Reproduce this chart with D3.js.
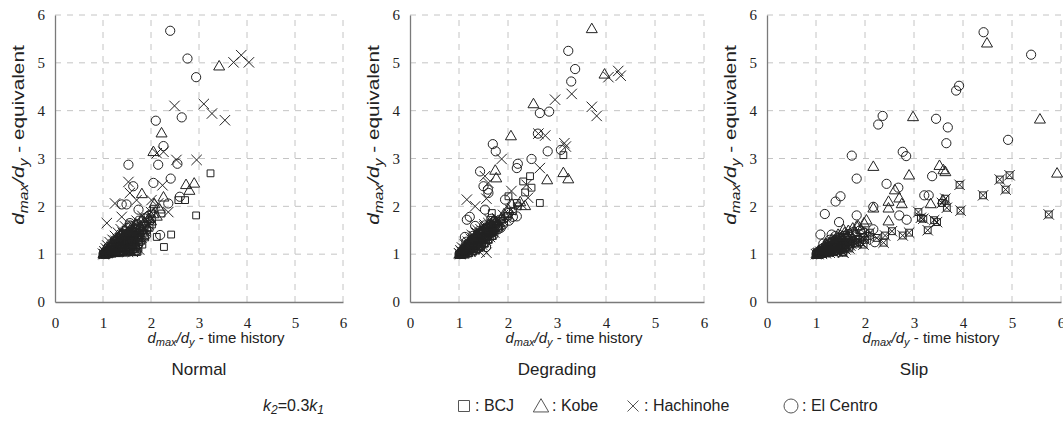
<!DOCTYPE html>
<html>
<head>
<meta charset="utf-8">
<script src="https://cdn.jsdelivr.net/npm/d3@7"></script>
<style>
  body { margin: 0; background: #fff; }
  svg { display: block; }
  .tick text { font-family: 'Liberation Serif', 'Times New Roman', 'DejaVu Serif', serif; }
</style>
</head>
<body>
<svg id="chart" width="1063" height="437"></svg>
<script>
// ---- data: [time history, equivalent] pairs ----
const panelNames = ["Normal", "Degrading", "Slip"];
const ticks = [0, 1, 2, 3, 4, 5, 6];
const seriesNames = ["BCJ", "Kobe", "Hachinohe", "El Centro"];

const normalBCJ = [[1.00,1.00],[1.02,1.01],[1.05,1.02],[1.08,1.03],[1.10,1.05],[1.13,1.04],[1.15,1.08],[1.18,1.06],[1.20,1.10],[1.23,1.08],[1.25,1.12],[1.28,1.05],[1.30,1.15],[1.33,1.10],[1.35,1.18],[1.38,1.07],[1.40,1.20],[1.43,1.13],[1.45,1.22],[1.48,1.09],[1.50,1.25],[1.53,1.15],[1.55,1.05],[1.58,1.28],[1.60,1.18],[1.63,1.10],[1.65,1.30],[1.68,1.22],[1.70,1.05],[1.72,1.35],[1.75,1.25],[1.78,1.40],[1.80,1.30],[1.85,1.45],[1.88,1.35],[1.92,1.50],[1.97,1.55],[2.02,1.62],
  [1.05,1.00],[1.12,1.01],[1.20,1.02],[1.28,1.03],[1.35,1.02],[1.42,1.04],[1.50,1.03],[1.58,1.06],[1.66,1.04],[1.22,1.15],[1.32,1.22],[1.44,1.30],[1.56,1.35],[1.62,1.25],[1.38,1.14],
  [1.04,1.03],[1.11,1.07],[1.17,1.12],[1.26,1.17],[1.34,1.25],[1.41,1.27],[1.47,1.18],[1.54,1.24],[1.61,1.33],[1.69,1.15],[1.74,1.12],[1.46,1.36],[1.36,1.33],[1.26,1.24],[1.58,1.42],[1.82,1.20],[1.67,1.40],[1.77,1.50],
  [3.24,2.69],[2.94,1.81],[2.42,1.41],[2.27,1.15],[2.12,1.36],[1.72,1.05],[2.57,2.13],[2.71,2.13],[2.06,1.95],[2.22,1.85],[2.01,1.85]];
const normalKobe = [[1.01,1.02],[1.04,1.05],[1.07,1.08],[1.10,1.12],[1.12,1.06],[1.15,1.15],[1.18,1.10],[1.20,1.20],[1.24,1.14],[1.27,1.25],[1.30,1.18],[1.33,1.30],[1.36,1.22],[1.40,1.35],[1.42,1.15],[1.45,1.28],[1.48,1.40],[1.52,1.32],[1.55,1.45],[1.58,1.22],[1.62,1.50],[1.65,1.38],[1.70,1.55],[1.73,1.45],[1.78,1.60],[1.82,1.52],[1.86,1.68],[1.90,1.58],[1.95,1.75],[2.00,1.70],[2.05,1.85],[2.12,1.80],[2.18,1.95],
  [1.03,1.00],[1.09,1.02],[1.16,1.03],[1.24,1.04],[1.31,1.06],[1.39,1.08],[1.47,1.07],[1.54,1.10],[1.63,1.12],[1.28,1.32],[1.38,1.40],[1.50,1.46],[1.60,1.58],[1.68,1.62],[1.18,1.24],
  [1.06,1.04],[1.13,1.09],[1.21,1.08],[1.29,1.13],[1.37,1.17],[1.44,1.21],[1.51,1.16],[1.59,1.30],[1.66,1.20],[1.72,1.35],[1.35,1.28],[1.43,1.42],[1.53,1.38],[1.62,1.44],[1.76,1.30],[1.84,1.42],[1.23,1.19],
  [3.42,4.94],[2.22,3.54],[2.05,3.15],[2.73,2.46],[2.90,2.49],[2.80,2.34],[2.26,2.20],[1.81,2.27],[2.07,2.06]];
const normalHachinohe = [[1.00,1.01],[1.03,1.06],[1.06,1.12],[1.09,1.18],[1.11,1.04],[1.14,1.25],[1.17,1.10],[1.20,1.30],[1.22,1.16],[1.25,1.38],[1.28,1.22],[1.31,1.45],[1.34,1.28],[1.37,1.52],[1.40,1.10],[1.43,1.35],[1.46,1.58],[1.50,1.42],[1.53,1.20],[1.56,1.50],[1.60,1.62],[1.63,1.35],[1.67,1.55],[1.70,1.70],[1.74,1.45],[1.78,1.65],[1.82,1.80],[1.86,1.55],[1.90,1.72],[1.95,1.62],[2.00,1.88],[1.75,1.10],[1.62,1.05],
  [1.02,1.00],[1.08,1.02],[1.14,1.04],[1.21,1.06],[1.29,1.08],[1.36,1.12],[1.44,1.15],[1.52,1.18],[1.60,1.20],[1.68,1.28],[1.32,1.18],[1.48,1.26],[1.56,1.32],[1.15,1.10],[1.26,1.28],
  [1.05,1.03],[1.10,1.08],[1.19,1.14],[1.27,1.10],[1.35,1.20],[1.42,1.24],[1.49,1.32],[1.57,1.40],[1.64,1.45],[1.71,1.38],[1.80,1.35],[1.88,1.48],[1.41,1.45],[1.30,1.32],[1.52,1.05],[1.66,1.12],
  [3.72,5.01],[3.88,5.16],[4.04,5.01],[3.10,4.14],[3.27,3.94],[3.54,3.80],[2.49,4.10],[2.95,2.97],[2.53,2.97],[2.26,3.14],[2.12,3.11],[2.24,2.44],[1.53,2.51],[1.56,2.28],[1.25,2.06],[1.70,2.13],[1.08,1.65],[1.39,1.78],[2.01,2.13],[2.15,2.06],[2.36,1.88],[1.84,1.40]];
const normalElCentro = [[1.01,1.00],[1.04,1.04],[1.08,1.10],[1.11,1.15],[1.14,1.08],[1.17,1.22],[1.20,1.14],[1.24,1.28],[1.27,1.20],[1.30,1.35],[1.33,1.26],[1.36,1.42],[1.40,1.30],[1.43,1.48],[1.46,1.36],[1.50,1.55],[1.53,1.40],[1.57,1.60],[1.60,1.45],[1.65,1.52],[1.70,1.62],[1.75,1.70],[1.80,1.58],[1.85,1.75],[1.90,1.66],[1.95,1.80],[2.00,1.72],[1.45,1.12],[1.70,1.08],[1.90,1.40],
  [1.06,1.01],[1.13,1.02],[1.19,1.04],[1.26,1.05],[1.33,1.06],[1.41,1.09],[1.49,1.13],[1.57,1.16],[1.64,1.22],[1.72,1.30],[1.35,1.32],[1.47,1.42],[1.58,1.50],[1.66,1.44],[1.22,1.08],
  [1.03,1.02],[1.09,1.06],[1.16,1.09],[1.23,1.12],[1.31,1.12],[1.38,1.20],[1.45,1.24],[1.52,1.30],[1.60,1.38],[1.68,1.50],[1.76,1.42],[1.84,1.52],[1.29,1.26],[1.39,1.38],[1.55,1.08],[1.63,1.28],[1.73,1.20],
  [2.40,5.67],[2.76,5.09],[2.94,4.70],[2.64,3.86],[2.10,3.79],[2.26,3.26],[1.53,2.87],[2.15,2.87],[2.55,2.89],[2.05,2.49],[2.41,2.58],[1.63,2.42],[2.60,2.20],[1.39,2.04],[1.49,2.04],[1.74,1.93],[2.36,2.06],[2.19,1.40],[1.56,1.65],[1.91,1.77]];

const degradingBCJ = [[1.00,1.00],[1.03,1.02],[1.06,1.05],[1.09,1.08],[1.12,1.04],[1.15,1.12],[1.18,1.08],[1.21,1.16],[1.24,1.12],[1.27,1.22],[1.30,1.16],[1.33,1.28],[1.36,1.20],[1.39,1.33],[1.42,1.25],[1.45,1.38],[1.48,1.30],[1.52,1.44],[1.55,1.35],[1.58,1.50],[1.62,1.42],[1.66,1.56],[1.70,1.48],[1.75,1.62],[1.80,1.55],[1.85,1.70],[1.92,1.66],[2.00,1.80],[2.10,1.90],[2.20,2.00],
  [1.05,1.00],[1.12,1.02],[1.20,1.03],[1.28,1.06],[1.36,1.10],[1.44,1.16],[1.52,1.22],[1.60,1.30],[1.68,1.38],[1.18,1.22],[1.30,1.34],[1.42,1.46],[1.55,1.55],[1.65,1.62],
  [1.04,1.03],[1.10,1.07],[1.16,1.14],[1.23,1.19],[1.30,1.24],[1.38,1.28],[1.45,1.33],[1.52,1.38],[1.60,1.46],[1.68,1.52],[1.75,1.55],[1.34,1.18],[1.47,1.25],[1.58,1.36],[1.25,1.10],
  [3.13,3.07],[2.65,2.07],[2.45,2.63],[2.31,2.52],[2.35,2.29],[2.48,2.39],[2.01,2.21],[2.18,2.07],[1.67,1.86]];
const degradingKobe = [[1.01,1.01],[1.04,1.06],[1.07,1.10],[1.10,1.03],[1.13,1.15],[1.16,1.10],[1.19,1.20],[1.22,1.14],[1.25,1.26],[1.28,1.18],[1.31,1.32],[1.34,1.24],[1.37,1.38],[1.40,1.30],[1.43,1.44],[1.46,1.35],[1.50,1.50],[1.54,1.40],[1.58,1.56],[1.62,1.46],[1.66,1.62],[1.70,1.52],[1.75,1.68],[1.80,1.60],[1.86,1.75],[1.92,1.85],[2.00,1.95],[2.08,2.05],[2.25,2.10],[2.35,2.02],
  [1.03,1.00],[1.10,1.01],[1.17,1.04],[1.25,1.08],[1.33,1.12],[1.41,1.18],[1.49,1.24],[1.57,1.32],[1.65,1.40],[1.22,1.30],[1.35,1.42],[1.47,1.52],[1.60,1.64],[1.70,1.70],
  [1.06,1.04],[1.12,1.09],[1.19,1.12],[1.26,1.20],[1.33,1.26],[1.40,1.35],[1.47,1.40],[1.55,1.45],[1.63,1.50],[1.72,1.58],[1.80,1.66],[1.38,1.22],[1.52,1.32],[1.66,1.48],[1.28,1.14],
  [3.71,5.72],[2.52,4.15],[2.06,3.48],[3.97,4.77],[2.80,2.56],[3.13,2.71],[3.23,2.58],[1.74,2.76],[1.76,2.60]];
const degradingHachinohe = [[1.00,1.02],[1.03,1.08],[1.06,1.14],[1.09,1.04],[1.12,1.20],[1.15,1.12],[1.18,1.26],[1.21,1.18],[1.24,1.32],[1.27,1.24],[1.30,1.38],[1.33,1.28],[1.36,1.45],[1.40,1.34],[1.44,1.52],[1.48,1.40],[1.52,1.58],[1.56,1.46],[1.60,1.65],[1.64,1.52],[1.68,1.70],[1.72,1.58],[1.78,1.75],[1.84,1.66],[1.90,1.82],[1.96,1.75],[2.05,1.92],[1.50,1.10],[1.42,1.05],
  [1.02,1.00],[1.08,1.02],[1.15,1.03],[1.23,1.06],[1.31,1.10],[1.39,1.15],[1.47,1.20],[1.55,1.28],[1.63,1.36],[1.72,1.45],[1.26,1.40],[1.38,1.50],[1.52,1.62],[1.62,1.72],
  [1.05,1.05],[1.11,1.11],[1.18,1.16],[1.25,1.22],[1.32,1.30],[1.39,1.38],[1.46,1.44],[1.54,1.50],[1.62,1.55],[1.70,1.62],[1.78,1.68],[1.44,1.28],[1.58,1.40],[1.33,1.20],[1.66,1.46],
  [2.96,4.23],[3.30,4.35],[3.71,4.08],[3.81,3.89],[4.05,4.70],[4.25,4.83],[4.30,4.73],[2.76,3.48],[2.62,3.52],[3.15,3.32],[3.18,3.25],[1.87,2.99],[2.65,2.80],[1.53,2.63],[1.60,2.49],[1.16,2.14],[1.56,2.16],[1.33,2.00],[2.07,2.32],[2.38,2.45],[1.56,1.03],[2.41,2.18],[2.28,2.04]];
const degradingElCentro = [[1.01,1.00],[1.04,1.03],[1.07,1.07],[1.10,1.12],[1.13,1.06],[1.16,1.18],[1.19,1.12],[1.22,1.24],[1.25,1.16],[1.28,1.30],[1.31,1.22],[1.34,1.36],[1.37,1.28],[1.40,1.42],[1.44,1.32],[1.48,1.48],[1.52,1.38],[1.56,1.55],[1.60,1.44],[1.64,1.62],[1.68,1.50],[1.72,1.68],[1.78,1.58],[1.84,1.72],[1.90,1.62],[1.96,1.78],[2.02,1.70],[2.10,1.78],[1.55,1.15],[1.80,1.52],[1.85,1.55],
  [1.06,1.01],[1.14,1.02],[1.21,1.05],[1.29,1.08],[1.37,1.12],[1.45,1.18],[1.53,1.25],[1.61,1.33],[1.70,1.40],[1.15,1.26],[1.28,1.38],[1.40,1.48],[1.52,1.60],[1.66,1.74],
  [1.03,1.03],[1.09,1.09],[1.16,1.15],[1.23,1.20],[1.30,1.27],[1.37,1.32],[1.44,1.40],[1.51,1.46],[1.58,1.50],[1.66,1.56],[1.74,1.64],[1.42,1.26],[1.56,1.36],[1.30,1.14],[1.70,1.48],
  [3.23,5.25],[3.37,4.87],[3.29,4.61],[2.65,3.95],[2.84,3.98],[2.61,3.52],[1.69,3.30],[1.75,3.15],[2.81,3.15],[3.08,3.18],[2.48,2.99],[2.20,2.89],[2.18,2.80],[1.43,2.73],[1.50,2.42],[1.59,2.35],[1.60,2.28],[1.16,1.72],[1.22,1.78],[1.53,1.93],[1.12,1.36],[1.33,1.59],[1.94,2.14],[2.01,1.86],[2.18,1.79]];

const slipBCJ = [[1.00,1.00],[1.03,1.01],[1.06,1.03],[1.09,1.05],[1.12,1.02],[1.15,1.07],[1.18,1.04],[1.21,1.09],[1.24,1.06],[1.27,1.11],[1.30,1.08],[1.33,1.13],[1.36,1.05],[1.39,1.15],[1.42,1.10],[1.45,1.18],[1.48,1.12],[1.52,1.20],[1.55,1.04],[1.58,1.22],[1.62,1.15],[1.66,1.25],[1.70,1.18],[1.75,1.28],[1.80,1.22],[1.85,1.32],[1.90,1.25],[1.95,1.35],[2.00,1.30],[2.05,1.38],
  [1.05,1.00],[1.12,1.01],[1.20,1.02],[1.28,1.03],[1.36,1.04],[1.44,1.06],[1.52,1.08],[1.60,1.10],[1.25,1.16],[1.40,1.22],
  [1.04,1.02],[1.10,1.04],[1.16,1.05],[1.22,1.07],[1.29,1.10],[1.35,1.12],[1.41,1.14],[1.47,1.16],[1.54,1.13],[1.60,1.18],[1.68,1.12],[1.72,1.22],[1.32,1.18],[1.48,1.24],
  [4.75,2.56],[4.95,2.65],[4.87,2.35],[4.41,2.23],[3.93,2.45],[3.95,1.91],[5.75,1.83],[3.09,1.88],[3.14,1.76],[3.19,1.74],[3.41,1.71],[3.47,1.67],[3.67,1.97],[3.64,2.16],[3.57,2.07],[3.28,1.50],[2.90,1.45],[2.77,1.39],[2.55,1.48],[2.41,1.39],[2.38,1.24],[2.24,1.34],[2.10,1.45],[1.97,1.20],[1.56,1.03],[1.83,1.24]];
const slipKobe = [[1.01,1.01],[1.04,1.05],[1.07,1.08],[1.10,1.03],[1.13,1.12],[1.16,1.08],[1.19,1.15],[1.22,1.10],[1.25,1.20],[1.28,1.14],[1.31,1.25],[1.34,1.18],[1.37,1.30],[1.40,1.22],[1.43,1.35],[1.46,1.26],[1.50,1.40],[1.54,1.30],[1.58,1.45],[1.62,1.35],[1.66,1.50],[1.70,1.40],[1.75,1.55],[1.80,1.46],[1.86,1.60],[1.92,1.52],[1.98,1.66],
  [1.03,1.00],[1.10,1.02],[1.18,1.04],[1.26,1.06],[1.34,1.09],[1.42,1.12],[1.50,1.16],[1.20,1.22],[1.32,1.32],[1.45,1.42],
  [1.06,1.03],[1.12,1.06],[1.18,1.10],[1.24,1.13],[1.30,1.17],[1.36,1.22],[1.42,1.26],[1.48,1.30],[1.56,1.34],[1.64,1.40],[1.38,1.15],[1.52,1.20],[1.28,1.08],
  [4.49,5.42],[5.57,3.83],[5.92,2.70],[2.98,3.88],[2.17,2.84],[2.90,2.66],[3.52,2.86],[3.60,2.77],[3.64,2.73],[3.34,2.06],[3.59,2.14],[2.61,2.35],[2.48,2.11],[2.48,1.97],[2.70,2.18],[2.75,2.06],[2.48,1.70],[2.17,1.97],[2.03,1.72],[1.83,1.59],[1.56,1.52]];
const slipHachinohe = [[1.00,1.00],[1.03,1.01],[1.06,1.03],[1.09,1.05],[1.12,1.02],[1.15,1.07],[1.18,1.04],[1.21,1.09],[1.24,1.06],[1.27,1.11],[1.30,1.08],[1.33,1.13],[1.36,1.05],[1.39,1.15],[1.42,1.10],[1.45,1.18],[1.48,1.12],[1.52,1.20],[1.55,1.04],[1.58,1.22],[1.62,1.15],[1.66,1.25],[1.70,1.18],[1.75,1.28],[1.80,1.22],[1.85,1.32],[1.90,1.25],[1.95,1.35],[2.00,1.30],[2.05,1.38],
  [1.05,1.00],[1.12,1.01],[1.20,1.02],[1.28,1.03],[1.36,1.04],[1.44,1.06],[1.52,1.08],[1.60,1.10],[1.25,1.16],[1.40,1.22],
  [1.04,1.02],[1.10,1.04],[1.16,1.05],[1.22,1.07],[1.29,1.10],[1.35,1.12],[1.41,1.14],[1.47,1.16],[1.54,1.13],[1.60,1.18],[1.68,1.12],[1.72,1.22],[1.32,1.18],[1.48,1.24],
  [4.75,2.56],[4.95,2.65],[4.87,2.35],[4.41,2.23],[3.93,2.45],[3.95,1.91],[5.75,1.83],[3.09,1.88],[3.14,1.76],[3.19,1.74],[3.41,1.71],[3.47,1.67],[3.67,1.97],[3.64,2.16],[3.57,2.07],[3.28,1.50],[2.90,1.45],[2.77,1.39],[2.55,1.48],[2.41,1.39],[2.38,1.24],[2.24,1.34],[2.10,1.45],[1.97,1.20],[1.56,1.03],[1.83,1.24]];
const slipElCentro = [[1.01,1.00],[1.04,1.03],[1.07,1.06],[1.10,1.10],[1.13,1.05],[1.16,1.14],[1.19,1.09],[1.22,1.18],[1.25,1.12],[1.28,1.22],[1.31,1.16],[1.34,1.26],[1.37,1.20],[1.40,1.30],[1.44,1.24],[1.48,1.34],[1.52,1.28],[1.56,1.38],[1.60,1.32],[1.65,1.42],[1.70,1.36],[1.76,1.46],[1.82,1.40],[1.90,1.50],[1.98,1.45],
  [1.06,1.01],[1.14,1.02],[1.22,1.04],[1.30,1.06],[1.38,1.08],[1.46,1.12],[1.54,1.15],[1.15,1.22],[1.28,1.30],[1.40,1.38],
  [1.03,1.02],[1.09,1.05],[1.15,1.08],[1.21,1.12],[1.27,1.15],[1.33,1.19],[1.39,1.23],[1.45,1.28],[1.51,1.32],[1.58,1.38],[1.64,1.28],[1.35,1.12],[1.47,1.18],[1.24,1.24],
  [4.42,5.64],[5.39,5.17],[3.86,4.42],[3.92,4.52],[2.36,3.89],[2.27,3.71],[3.45,3.83],[3.69,3.65],[3.66,3.32],[3.37,2.63],[4.92,3.39],[1.73,3.06],[2.77,3.14],[2.84,3.05],[1.83,2.58],[2.44,2.47],[1.50,2.21],[1.40,2.10],[2.68,2.39],[3.21,2.23],[3.30,2.23],[1.18,1.84],[1.09,1.41],[1.47,1.67],[1.83,1.81],[2.17,1.99],[2.70,1.81],[2.85,1.72],[2.17,1.52],[2.20,1.25],[1.32,1.41]];

const panelData = [
  [normalBCJ, normalKobe, normalHachinohe, normalElCentro],
  [degradingBCJ, degradingKobe, degradingHachinohe, degradingElCentro],
  [slipBCJ, slipKobe, slipHachinohe, slipElCentro]
];

// ---- layout ----
const panelLeft = [55, 410, 767];
const panelWidth = [288, 294, 294];
const plotTop = 15, plotBottom = 302;
const ink = "#222";
const sans = "'Liberation Sans', Arial, sans-serif";

// marker shapes, centred on 0,0
const shapes = {
  BCJ: s => `M${-s},${-s}h${2*s}v${2*s}h${-2*s}Z`,
  Kobe: s => `M0,${-s*1.05}L${s*1.1},${s*0.85}L${-s*1.1},${s*0.85}Z`,
  Hachinohe: s => `M${-s},${-s}L${s},${s}M${s},${-s}L${-s},${s}`,
  "El Centro": s => `M${s},0A${s},${s} 0 1,1 ${-s},0A${s},${s} 0 1,1 ${s},0Z`
};
const markerSize = { BCJ: 3.4, Kobe: 5, Hachinohe: 5.2, "El Centro": 4.6 };

const svg = d3.select("#chart");

// italic d_max/d_y followed by plain text
function ratioLabel(text, big, small, shift, rest) {
  text.attr("font-size", big);
  text.append("tspan").attr("font-style", "italic").text("d");
  text.append("tspan").attr("font-style", "italic").attr("font-size", small).attr("dy", shift).text("max");
  text.append("tspan").attr("font-style", "italic").attr("dy", -shift).text("/d");
  text.append("tspan").attr("font-style", "italic").attr("font-size", small).attr("dy", shift).text("y");
  text.append("tspan").attr("dy", -shift).text(rest);
}

panelNames.forEach((name, i) => {
  const x = d3.scaleLinear().domain([0, 6]).range([panelLeft[i], panelLeft[i] + panelWidth[i]]);
  const y = d3.scaleLinear().domain([0, 6]).range([plotBottom, plotTop]);
  const g = svg.append("g");

  // dashed grid
  g.selectAll(".vgrid").data(ticks.slice(1)).join("line")
    .attr("x1", d => x(d)).attr("x2", d => x(d))
    .attr("y1", y(0)).attr("y2", y(6))
    .attr("stroke", "#c4c4c4").attr("stroke-dasharray", "6,6");
  g.selectAll(".hgrid").data(ticks.slice(1)).join("line")
    .attr("x1", x(0)).attr("x2", x(6))
    .attr("y1", d => y(d)).attr("y2", d => y(d))
    .attr("stroke", "#c4c4c4").attr("stroke-dasharray", "6,6");

  // axes
  const xAxis = g.append("g").attr("transform", `translate(0,${y(0)})`)
    .call(d3.axisBottom(x).tickValues(ticks).tickFormat(d3.format("d"))
      .tickSize(0).tickSizeOuter(0).tickPadding(15));
  const yAxis = g.append("g").attr("transform", `translate(${x(0)},0)`)
    .call(d3.axisLeft(y).tickValues(ticks).tickFormat(d3.format("d"))
      .tickSize(0).tickSizeOuter(0).tickPadding(10));
  [xAxis, yAxis].forEach(a => {
    a.attr("font-family", null);
    a.select(".domain").attr("stroke", "#7a7a7a").attr("stroke-width", 1.3);
    a.selectAll("text").attr("font-size", 15).attr("fill", ink);
  });

  // markers
  seriesNames.forEach((s, k) => {
    g.selectAll(null).data(panelData[i][k]).join("path")
      .attr("transform", d => `translate(${x(d[0])},${y(d[1])})`)
      .attr("d", shapes[s](markerSize[s]))
      .attr("fill", "none")
      .attr("stroke", ink)
      .attr("stroke-width", 1);
  });

  // y title
  const yt = g.append("text")
    .attr("transform", `translate(${x(0) - 31},135) rotate(-90) scale(1.3,1)`)
    .attr("text-anchor", "middle")
    .attr("font-family", sans).attr("fill", ink);
  ratioLabel(yt, 16, 12, 4, " - equivalent");

  // x title
  const xt = g.append("text")
    .attr("x", (x(0) + x(6)) / 2 + 17).attr("y", 343)
    .attr("text-anchor", "middle")
    .attr("font-family", sans).attr("fill", ink);
  ratioLabel(xt, 15, 11, 3, " - time history");

  // panel name
  g.append("text")
    .attr("x", (x(0) + x(6)) / 2).attr("y", 375)
    .attr("text-anchor", "middle")
    .attr("font-family", sans)
    .attr("font-size", 17).attr("fill", ink)
    .text(name);
});

// ---- legend ----
const legendY = 411;
const lg = svg.append("g")
  .attr("font-family", sans)
  .attr("font-size", 16).attr("fill", ink);

const kt = lg.append("text").attr("x", 263).attr("y", legendY);
kt.append("tspan").attr("font-style", "italic").text("k");
kt.append("tspan").attr("font-style", "italic").attr("font-size", 12).attr("dy", 3).text("2");
kt.append("tspan").attr("dy", -3).text("=0.3");
kt.append("tspan").attr("font-style", "italic").text("k");
kt.append("tspan").attr("font-style", "italic").attr("font-size", 12).attr("dy", 3).text("1");

const legendX = [464, 541, 633, 791];
const legendSize = { BCJ: 5.5, Kobe: 7, Hachinohe: 5.5, "El Centro": 7 };
seriesNames.forEach((s, k) => {
  lg.append("path")
    .attr("transform", `translate(${legendX[k]},${legendY - 5})`)
    .attr("d", shapes[s](legendSize[s]))
    .attr("fill", "none").attr("stroke", "#555").attr("stroke-width", 1);
  lg.append("text")
    .attr("x", legendX[k] + 11).attr("y", legendY)
    .text(": " + s);
});
</script>
</body>
</html>
